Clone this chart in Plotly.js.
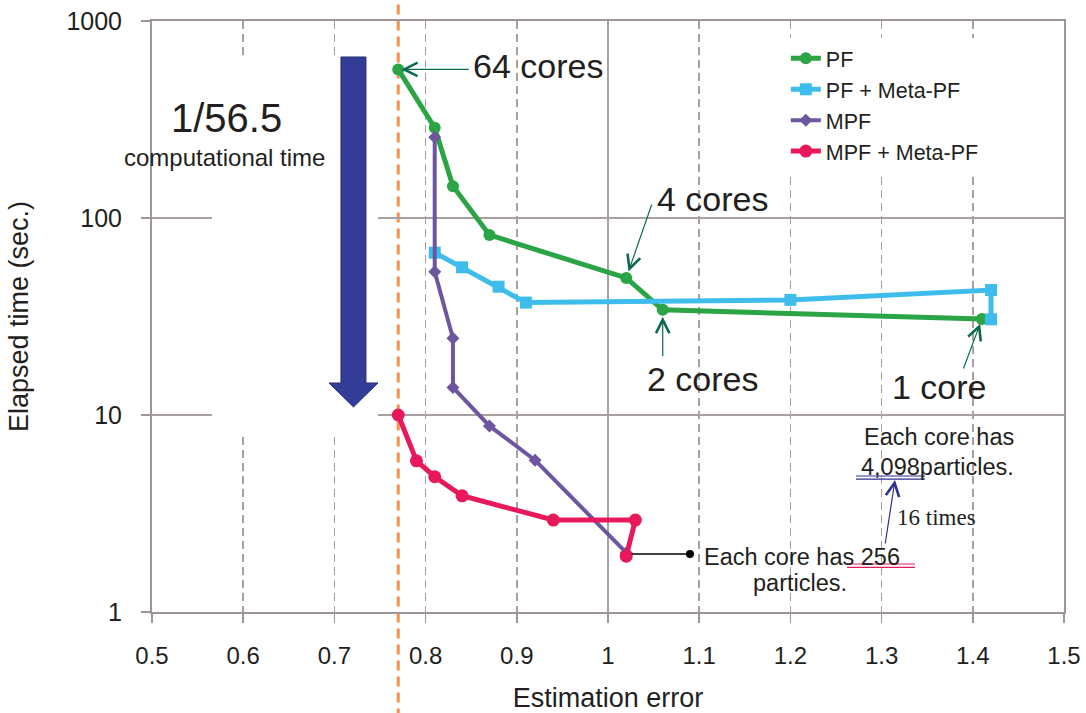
<!DOCTYPE html>
<html>
<head>
<meta charset="utf-8">
<script src="https://cdn.plot.ly/plotly-3.0.1.min.js"></script>
<style>
  html, body { margin: 0; padding: 0; background: #ffffff; }
  #chart { width: 1086px; height: 713px; }
</style>
</head>
<body>
<div id="chart"></div>
<script>
// Estimation error (x) vs elapsed time in seconds (y, log scale)
const pfErr = [0.77, 0.81, 0.83, 0.87, 1.02, 1.06, 1.41];
const pfTime = [568, 287, 145, 82, 49.6, 34.2, 30.7];

const pfMetaErr = [0.81, 0.84, 0.88, 0.91, 1.20, 1.42, 1.42];
const pfMetaTime = [66.7, 56.2, 44.8, 37.2, 38.4, 43.1, 30.6];

const mpfErr = [0.81, 0.81, 0.83, 0.83, 0.87, 0.92, 1.02];
const mpfTime = [257, 53.3, 24.5, 13.8, 8.8, 5.9, 2.0];

const mpfMetaErr = [0.77, 0.79, 0.81, 0.84, 0.94, 1.03, 1.02];
const mpfMetaTime = [10, 5.85, 4.86, 3.89, 2.93, 2.93, 1.92];

const seriesNames = ['PF', 'PF + Meta-PF', 'MPF', 'MPF + Meta-PF'];

const xTickVals = [0.5, 0.6, 0.7, 0.8, 0.9, 1.0, 1.1, 1.2, 1.3, 1.4, 1.5];
const xTickText = ['0.5', '0.6', '0.7', '0.8', '0.9', '1', '1.1', '1.2', '1.3', '1.4', '1.5'];
const yTickVals = [1, 10, 100, 1000];
const yTickText = ['1', '10', '100', '1000'];

// reference error level marked by the dashed vertical line
const bestError = 0.77;

const FONT = 'Liberation Sans, Arial, Helvetica, sans-serif';
const TXT = '#231f20';
const GRID = '#a7a09e';
const AXIS = '#9d9694';
const ARROW_GREEN = '#0d6b4d';
const NAVY = '#2e3192';

const traces = [
  {
    x: pfErr, y: pfTime, name: seriesNames[0], legendgroup: 'a',
    mode: 'lines+markers', type: 'scatter',
    line: { color: '#2aa445', width: 5 },
    marker: { symbol: 'circle', size: 12, color: '#2aa445' }
  },
  {
    x: pfMetaErr, y: pfMetaTime, name: seriesNames[1], legendgroup: 'b',
    mode: 'lines+markers', type: 'scatter',
    line: { color: '#3ebdec', width: 5 },
    marker: { symbol: 'square', size: 12, color: '#3ebdec' }
  },
  {
    x: mpfErr, y: mpfTime, name: seriesNames[2], legendgroup: 'c',
    mode: 'lines+markers', type: 'scatter',
    line: { color: '#6e55a0', width: 4 },
    marker: { symbol: 'diamond', size: 10, color: '#6e55a0' }
  },
  {
    x: mpfMetaErr, y: mpfMetaTime, name: seriesNames[3], legendgroup: 'd',
    mode: 'lines+markers', type: 'scatter',
    line: { color: '#e8195a', width: 5 },
    marker: { symbol: 'circle', size: 13, color: '#e8195a' }
  }
];

function label(text, x, y, size, extra) {
  return Object.assign({
    text: text, xref: 'paper', yref: 'paper', x: x, y: y,
    xanchor: 'center', yanchor: 'middle', showarrow: false,
    font: { family: FONT, size: size, color: TXT }
  }, extra || {});
}

// arrow pointing at a data point (annotation y on a log axis is log10)
function pointer(px, py, ax, ay, standoff) {
  return {
    text: '', xref: 'x', yref: 'y', x: px, y: Math.log10(py),
    ax: ax, ay: ay, showarrow: true, arrowhead: 5, arrowsize: 2.2,
    arrowwidth: 1.2, arrowcolor: ARROW_GREEN, standoff: standoff
  };
}

const n = pfErr.length - 1;
const annotations = [
  label('1/56.5', 0.0817, 0.8367, 40),
  label('computational time', 0.080, 0.7682, 24),
  label('64 cores', 0.4227, 0.9247, 34),
  label('4 cores', 0.6156, 0.6988, 34),
  label('2 cores', 0.6047, 0.3942, 34),
  label('1 core', 0.8635, 0.3799, 34),
  label('Each core has', 0.8629, 0.2961, 23.5),
  label('4,098particles.', 0.8618, 0.2453, 23.5),
  label('16 times', 0.8607, 0.1607, 23, { font: { family: 'Liberation Serif, Times New Roman, serif', size: 23, color: TXT } }),
  label('Each core has 256', 0.7127, 0.0936, 23.5),
  label('particles.', 0.7105, 0.0491, 23.5),
  pointer(pfErr[0], pfTime[0], 72, 0, 3),
  pointer(pfErr[4], pfTime[4], 26, -75, 7),
  pointer(pfErr[5], pfTime[5], 0, 48, 7),
  pointer(pfErr[n], pfTime[n], -19, 51, 5),
  {
    text: '', xref: 'paper', yref: 'paper', x: 0.8147, y: 0.2234,
    ax: -10, ay: 65, showarrow: true, arrowhead: 5, arrowsize: 2.2,
    arrowwidth: 1.2, arrowcolor: NAVY, standoff: 0
  }
];

const shapes = [
  // white panel behind the speed-up note
  {
    type: 'rect', xref: 'x', yref: 'y', layer: 'between',
    x0: 0.5658, x1: 0.7478, y0: 7.73, y1: 657,
    fillcolor: '#ffffff', line: { width: 0 }
  },
  // solid gridline at error = 1
  {
    type: 'line', xref: 'x', yref: 'paper', layer: 'between',
    x0: 1, x1: 1, y0: 0, y1: 1,
    line: { color: GRID, width: 2 }
  },
  // dashed marker at the best error level
  {
    type: 'line', xref: 'x', yref: 'paper', layer: 'between',
    x0: bestError, x1: bestError, y0: -0.18, y1: 1.04,
    line: { color: '#f7914d', width: 3, dash: '10px,6px' }
  },
  // big downward arrow
  {
    type: 'path', xref: 'paper', yref: 'paper', layer: 'above',
    path: 'M0.2072,0.9391 L0.2346,0.9391 L0.2346,0.3875 L0.2478,0.3875 L0.2209,0.3469 L0.1941,0.3875 L0.2072,0.3875 Z',
    fillcolor: '#333c96', line: { color: '#2a2f78', width: 1 }
  },
  // leader line to the 256-particle note, ending in a dot
  {
    type: 'line', xref: 'x', yref: 'y', layer: 'above',
    x0: 1.026, x1: 1.09, y0: 1.97, y1: 1.97,
    line: { color: '#000000', width: 1.3 }
  },
  {
    type: 'circle', xref: 'paper', yref: 'paper', layer: 'above',
    x0: 0.5855, x1: 0.5943, y0: 0.0913, y1: 0.1049,
    fillcolor: '#000000', line: { width: 0 }
  },
  // double underline under 4,098
  { type: 'line', xref: 'paper', yref: 'paper', x0: 0.7719, x1: 0.8476, y0: 0.2301, y1: 0.2301, line: { color: NAVY, width: 1.2 } },
  { type: 'line', xref: 'paper', yref: 'paper', x0: 0.7719, x1: 0.8476, y0: 0.2250, y1: 0.2250, line: { color: NAVY, width: 1.2 } },
  // double underline under 256
  { type: 'line', xref: 'paper', yref: 'paper', x0: 0.7621, x1: 0.8366, y0: 0.0812, y1: 0.0812, line: { color: '#e8195a', width: 1.2 } },
  { type: 'line', xref: 'paper', yref: 'paper', x0: 0.7621, x1: 0.8366, y0: 0.0756, y1: 0.0756, line: { color: '#e8195a', width: 1.2 } }
];

const layout = {
  width: 1086, height: 713,
  margin: { l: 152, r: 22, t: 21, b: 101, pad: 0 },
  paper_bgcolor: '#ffffff', plot_bgcolor: '#ffffff',
  font: { family: FONT, color: TXT },
  showlegend: true,
  legend: {
    x: 0.695, y: 0.9716, xanchor: 'left', yanchor: 'top',
    bgcolor: '#ffffff', borderwidth: 0,
    font: { family: FONT, size: 21.5, color: TXT },
    traceorder: 'grouped', tracegroupgap: 0
  },
  xaxis: {
    range: [0.5, 1.5], tickvals: xTickVals, ticktext: xTickText,
    showline: true, mirror: true, linecolor: AXIS, linewidth: 2,
    ticks: 'outside', ticklen: 9, tickwidth: 1.5, tickcolor: AXIS,
    showgrid: true, gridcolor: GRID, gridwidth: 1.5, griddash: '8px,5px',
    zeroline: false, ticklabelstandoff: 12,
    tickfont: { family: FONT, size: 24, color: TXT },
    title: { text: 'Estimation error', font: { family: FONT, size: 27, color: TXT }, standoff: 22 }
  },
  yaxis: {
    type: 'log', range: [0, 3], tickvals: yTickVals, ticktext: yTickText,
    showline: true, mirror: true, linecolor: AXIS, linewidth: 2,
    ticks: 'outside', ticklen: 9, tickwidth: 1.5, tickcolor: AXIS,
    showgrid: true, gridcolor: GRID, gridwidth: 2,
    zeroline: false, ticklabelstandoff: 14,
    tickfont: { family: FONT, size: 25, color: TXT },
    title: { text: 'Elapsed time (sec.)', font: { family: FONT, size: 27, color: TXT }, standoff: 30 }
  },
  annotations: annotations,
  shapes: shapes
};

Plotly.newPlot('chart', traces, layout, { staticPlot: true, displayModeBar: false });
</script>
</body>
</html>
